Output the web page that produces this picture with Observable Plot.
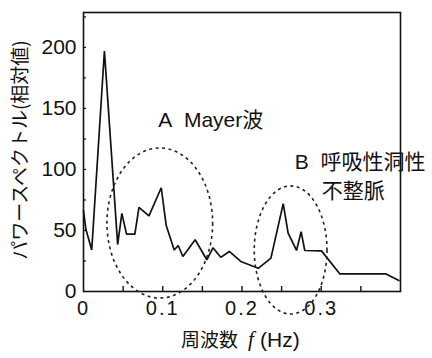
<!DOCTYPE html>
<html><head><meta charset="utf-8">
<script src="https://cdn.jsdelivr.net/npm/d3@7"></script>
<script src="https://cdn.jsdelivr.net/npm/@observablehq/plot@0.6"></script>
<style>
html,body{margin:0;padding:0;background:#fff}
#chart svg g[aria-label="x-axis tick label"] text{letter-spacing:2px}
#chart svg g[aria-label="ylabel"] text{letter-spacing:2px}
#chart svg g[aria-label="note"] text{letter-spacing:1.2px}
</style></head><body><div id="chart"></div>
<script>
// Power spectrum data
const freq = [0, 0.003, 0.0104, 0.0264, 0.0431, 0.0484, 0.0543, 0.0648, 0.070, 0.0826, 0.0981, 0.1044, 0.1145, 0.1195, 0.1254, 0.1409, 0.1556, 0.1634, 0.1732, 0.184, 0.1984, 0.2205, 0.2365, 0.252, 0.2582, 0.2688, 0.2746, 0.2792, 0.3003, 0.3233, 0.3811, 0.398];
const power = [66, 51, 34, 197, 38.5, 64, 47, 47, 69, 62, 85, 54, 34, 37.7, 28.7, 42.4, 26, 35.8, 28, 32.8, 24.6, 19, 27.3, 72, 47.8, 33.6, 49, 33.6, 33.3, 14.5, 14.5, 9];

// Axis ticks
const xTickLabels = [0, 0.1, 0.2, 0.3];
const xTickMarks = [0.05, 0.1, 0.15, 0.2, 0.25, 0.3, 0.35];
const yTickLabels = [0, 50, 100, 150, 200];
const yTickMarks = [25, 50, 75, 100, 125, 150, 175, 200, 225];

// Text
const xLabelParts = ["周波数", "f", "(Hz)"];
const yLabel = "パワースペクトル(相対値)";
const noteA = "A\u00a0\u00a0Mayer波";
const noteB1 = "B\u00a0\u00a0呼吸性洞性";
const noteB2 = "不整脈";

// Dotted ellipses (region highlights): centers and radii in data units
const ellCx = [0.0969, 0.262];
const ellCy = [55.7, 33.6];
const ellRx = [0.0667, 0.0459];
const ellRy = [61.5, 52.5];

const data = freq.map((f, i) => ({f, p: power[i]}));

const latin = "'Liberation Sans', Arial, 'Noto Sans CJK JP', sans-serif";
const narrow = "'Liberation Sans Narrow', 'Arial Narrow', 'Liberation Sans', sans-serif";
const cjk = "'Noto Sans CJK JP', sans-serif";

const W = 432, H = 358, mL = 83, mR = 32, mT = 12, mB = 67;
const plotW = W - mL - mR, plotH = H - mT - mB;

const ellipses = (index, scales) => {
  const g = d3.create("svg:g")
    .attr("fill", "none").attr("stroke", "#222")
    .attr("stroke-width", 1.6).attr("stroke-dasharray", "3,3.5");
  for (let i = 0; i < ellCx.length; i++) {
    const cx = scales.x(ellCx[i]), cy = scales.y(ellCy[i]);
    const rx = scales.x(ellCx[i] + ellRx[i]) - cx;
    const ry = cy - scales.y(ellCy[i] + ellRy[i]);
    g.append("ellipse").attr("cx", cx).attr("cy", cy).attr("rx", rx).attr("ry", ry);
  }
  return g.node();
};

const chart = Plot.plot({
  width: W, height: H,
  marginLeft: mL, marginRight: mR, marginTop: mT, marginBottom: mB,
  style: {fontFamily: narrow, fontSize: "20px", color: "#111", background: "#fff"},
  x: {domain: [0, 0.4]},
  y: {domain: [0, 228.6]},
  marks: [
    Plot.frame({stroke: "#111", strokeWidth: 1.6}),
    Plot.tickX(xTickMarks, {x: d => d, stroke: "#111", strokeWidth: 1.4, insetTop: plotH - 5}),
    Plot.tickY(yTickMarks, {y: d => d, stroke: "#111", strokeWidth: 1.2, insetRight: plotW - 3}),
    Plot.axisX({ticks: xTickLabels, tickSize: 0, tickPadding: 9, tickFormat: d => d === 0 ? "0" : d3.format(".1f")(d), label: null, fontSize: 20, fontFamily: narrow}),
    Plot.axisY({ticks: yTickLabels, tickSize: 0, tickPadding: 7, tickFormat: d => String(d), label: null, fontSize: 21, fontFamily: narrow}),
    Plot.line(data, {x: "f", y: "p", stroke: "#111", strokeWidth: 1.7, strokeLinejoin: "miter"}),
    ellipses,
    Plot.text([noteA], {x: 0.0943, y: 139.9, text: d => d, textAnchor: "start", fontSize: 21, fontFamily: latin, fill: "#111"}),
    Plot.text([noteB1], {x: 0.2667, y: 105.9, text: d => d, textAnchor: "start", fontSize: 21, fontFamily: latin, fill: "#111", ariaLabel: "note"}),
    Plot.text([noteB2], {x: 0.3006, y: 82.2, text: d => d, textAnchor: "start", fontSize: 21, fontFamily: cjk, fill: "#111", ariaLabel: "note"}),
    Plot.text([yLabel], {frameAnchor: "left", text: d => d, textAnchor: "middle", rotate: -90, dx: -63, dy: -2, fontSize: 19, fontFamily: cjk, fill: "#111", ariaLabel: "ylabel"}),
    Plot.text([xLabelParts[0]], {frameAnchor: "bottom", text: d => d, textAnchor: "end", dx: -4, dy: 55, fontSize: 19, fontFamily: cjk, fill: "#111"}),
    Plot.text([xLabelParts[1]], {frameAnchor: "bottom", text: d => d, textAnchor: "middle", dx: 9, dy: 54, fontSize: 21, fontStyle: "italic", fontFamily: "'Liberation Serif', serif", fill: "#111"}),
    Plot.text([xLabelParts[2]], {frameAnchor: "bottom", text: d => d, textAnchor: "start", dx: 18, dy: 55, fontSize: 21, fontFamily: latin, fill: "#111"})
  ]
});
document.getElementById("chart").appendChild(chart);
</script></body></html>
